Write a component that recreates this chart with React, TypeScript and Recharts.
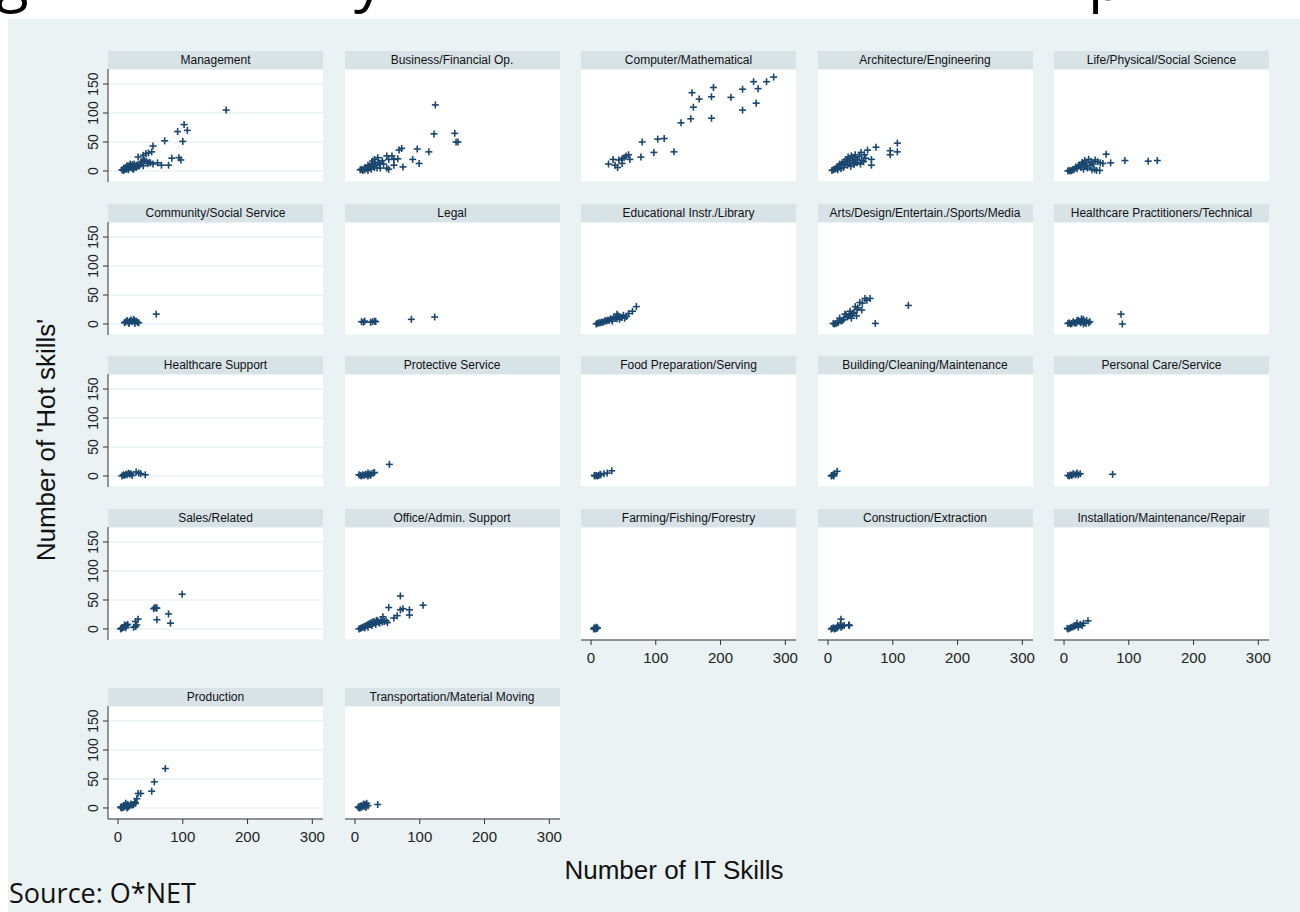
import { CartesianGrid, Scatter, ScatterChart, XAxis, YAxis } from "recharts";

type Pt = [number, number];

// [IT skills, hot skills] per occupation group
const MANAGEMENT: Pt[] = [
  [167, 105], [102, 80], [92, 68], [107, 70], [100, 51], [72, 52], [54, 43], [52, 33], [47, 31], [43, 30],
  [39, 27], [31, 24], [36, 16], [39, 19], [83, 22], [94, 23], [97, 19], [78, 10], [67, 10], [61, 14],
  [54, 12], [48, 15], [44, 17], [41, 18], [46, 13], [50, 14], [39, 9], [31, 8], [35, 12], [28, 10],
  [25, 12], [22, 11], [20, 8], [18, 6], [15, 5], [13, 3], [10, 2], [8, 1], [12, 6], [17, 9],
  [22, 4], [26, 7], [30, 10], [14, 9], [19, 12], [11, 4], [6, 2], [9, 5], [16, 2], [24, 3], [28, 6], [33, 9],
];
const BUSINESS: Pt[] = [
  [124, 114], [122, 64], [154, 65], [156, 50], [159, 50], [114, 33], [96, 38], [72, 39], [68, 36], [89, 20],
  [99, 13], [74, 7], [60, 20], [66, 21], [57, 26], [49, 26], [52, 20], [60, 10], [52, 3], [49, 5],
  [39, 5], [34, 5], [35, 23], [30, 20], [27, 17], [26, 13], [36, 15], [44, 12], [42, 18], [20, 10],
  [22, 6], [18, 4], [15, 2], [12, 1], [10, 3], [8, 2], [24, 8], [28, 9], [16, 6], [14, 4],
  [20, 1], [25, 3], [30, 6], [32, 10], [38, 12],
];
const COMPUTER: Pt[] = [
  [282, 162], [271, 154], [251, 154], [258, 142], [234, 141], [216, 127], [255, 117], [234, 105], [189, 144], [186, 128],
  [186, 91], [156, 135], [167, 124], [158, 110], [154, 90], [139, 83], [128, 33], [113, 56], [103, 55], [97, 32],
  [79, 50], [77, 24], [60, 20], [58, 28], [54, 26], [51, 23], [48, 21], [48, 13], [43, 19], [34, 20],
  [27, 12], [37, 10], [41, 6],
];
const ARCHITECTURE: Pt[] = [
  [107, 48], [107, 33], [96, 35], [96, 28], [74, 41], [67, 20], [67, 10], [61, 36], [51, 32], [56, 28],
  [58, 22], [52, 18], [48, 25], [45, 20], [42, 15], [40, 23], [38, 18], [35, 22], [33, 14], [30, 17],
  [28, 20], [26, 12], [25, 16], [22, 14], [20, 10], [18, 12], [16, 8], [14, 6], [12, 4], [10, 3],
  [8, 2], [6, 1], [30, 10], [35, 8], [40, 11], [45, 14], [50, 12], [55, 16], [24, 6], [20, 4],
  [15, 2], [36, 26], [42, 28], [31, 24],
];
const LIFE_SCIENCE: Pt[] = [
  [144, 18], [130, 17], [94, 18], [72, 14], [65, 29], [56, 14], [48, 19], [50, 1], [45, 12], [42, 16],
  [40, 10], [38, 20], [35, 14], [33, 8], [30, 12], [28, 15], [26, 6], [24, 10], [22, 9], [20, 4],
  [18, 7], [16, 3], [14, 2], [12, 1], [10, 0], [8, 1], [6, 0], [36, 5], [43, 2], [47, 3],
  [55, 1], [30, 3], [32, 18], [28, 11], [52, 16], [60, 13],
];
const COMMUNITY: Pt[] = [
  [59, 17], [30, 3], [28, 5], [25, 6], [22, 4], [20, 7], [18, 5], [16, 3], [14, 6], [12, 4],
  [10, 2], [26, 1], [32, 2], [24, 8], [17, 1],
];
const LEGAL: Pt[] = [[123, 12], [87, 8], [10, 4], [13, 3], [15, 5], [24, 3], [27, 4], [30, 5], [32, 4]];
const EDUCATION: Pt[] = [
  [70, 30], [64, 22], [58, 18], [55, 13], [50, 15], [48, 11], [45, 12], [42, 14], [40, 9], [38, 10],
  [35, 12], [32, 8], [30, 9], [28, 6], [26, 7], [24, 5], [22, 6], [20, 4], [18, 3], [16, 3],
  [14, 2], [12, 2], [10, 1], [8, 0], [33, 5], [40, 17], [44, 8], [52, 10],
];
const ARTS: Pt[] = [
  [124, 32], [73, 1], [65, 44], [57, 44], [49, 37], [42, 30], [34, 22], [26, 17], [18, 10], [60, 41],
  [53, 36], [46, 28], [45, 25], [40, 20], [38, 18], [35, 15], [32, 14], [30, 12], [28, 16], [24, 8],
  [22, 6], [20, 5], [16, 3], [14, 2], [12, 1], [10, 0], [8, 1], [36, 10], [44, 14], [52, 24],
];
const HEALTH_PRACT: Pt[] = [
  [88, 17], [90, 0], [40, 4], [38, 2], [35, 6], [32, 3], [30, 8], [28, 5], [26, 2], [24, 4],
  [22, 6], [20, 3], [18, 1], [16, 2], [14, 4], [12, 1], [10, 0], [8, 2], [6, 1], [30, 0],
  [34, 1], [27, 9], [20, 6],
];
const HEALTH_SUPPORT: Pt[] = [
  [42, 2], [35, 4], [32, 5], [28, 7], [20, 4], [18, 3], [16, 5], [14, 2], [12, 3], [10, 1],
  [8, 2], [6, 0], [22, 1],
];
const PROTECTIVE: Pt[] = [
  [53, 20], [30, 6], [28, 5], [25, 4], [22, 3], [20, 5], [18, 2], [16, 3], [14, 1], [12, 2],
  [10, 0], [8, 1], [6, 2], [24, 1], [20, 0],
];
const FOOD: Pt[] = [[32, 9], [25, 5], [20, 4], [15, 2], [12, 1], [10, 0], [8, 1], [6, 0], [5, 1], [14, 3]];
const BUILDING: Pt[] = [[14, 8], [10, 4], [8, 2], [6, 1], [5, 0], [9, 0]];
const PERSONAL: Pt[] = [
  [75, 3], [25, 4], [20, 5], [18, 2], [15, 3], [12, 1], [10, 2], [8, 0], [6, 1], [14, 4], [22, 2],
];
const SALES: Pt[] = [
  [99, 60], [78, 26], [81, 10], [60, 16], [57, 37], [59, 36], [55, 35], [60, 36], [31, 17], [27, 13],
  [27, 4], [29, 7], [24, 3], [15, 8], [13, 6], [11, 5], [9, 3], [7, 2], [5, 1], [4, 0], [12, 2], [10, 7],
];
const OFFICE: Pt[] = [
  [70, 57], [105, 41], [52, 37], [70, 33], [74, 35], [84, 33], [84, 24], [65, 23], [60, 19], [43, 21],
  [45, 13], [40, 15], [35, 14], [30, 12], [28, 10], [25, 11], [22, 9], [20, 8], [18, 6], [16, 5],
  [14, 4], [12, 3], [10, 2], [8, 1], [6, 0], [32, 8], [38, 10], [42, 12], [48, 14], [50, 11],
  [26, 6], [20, 3], [15, 2], [28, 13], [33, 15], [36, 12], [24, 8],
];
const FARMING: Pt[] = [[10, 2], [8, 3], [6, 1], [5, 2], [4, 0], [7, 0], [9, 1]];
const CONSTRUCTION: Pt[] = [
  [20, 17], [32, 7], [33, 6], [25, 6], [22, 5], [20, 3], [16, 4], [14, 2], [12, 1], [10, 0],
  [8, 2], [6, 1], [5, 0], [15, 6], [19, 8],
];
const INSTALLATION: Pt[] = [
  [37, 14], [30, 10], [25, 8], [20, 10], [18, 6], [16, 5], [14, 4], [12, 3], [10, 2], [8, 1],
  [6, 0], [5, 1], [22, 3], [28, 6],
];
const PRODUCTION: Pt[] = [
  [73, 68], [56, 45], [52, 29], [31, 25], [35, 25], [29, 16], [26, 10], [24, 6], [22, 5], [20, 7],
  [18, 4], [15, 6], [13, 3], [11, 5], [10, 2], [8, 1], [6, 0], [5, 2], [4, 1], [12, 8],
  [16, 2], [14, 0], [9, 4], [27, 8],
];
const TRANSPORT: Pt[] = [
  [35, 6], [20, 4], [18, 8], [16, 6], [15, 3], [14, 5], [12, 2], [10, 4], [9, 1], [8, 3],
  [7, 0], [6, 2], [5, 1], [17, 1], [13, 7],
];

const PANELS: { title: string; data: Pt[] }[] = [
  { title: "Management", data: MANAGEMENT },
  { title: "Business/Financial Op.", data: BUSINESS },
  { title: "Computer/Mathematical", data: COMPUTER },
  { title: "Architecture/Engineering", data: ARCHITECTURE },
  { title: "Life/Physical/Social Science", data: LIFE_SCIENCE },
  { title: "Community/Social Service", data: COMMUNITY },
  { title: "Legal", data: LEGAL },
  { title: "Educational Instr./Library", data: EDUCATION },
  { title: "Arts/Design/Entertain./Sports/Media", data: ARTS },
  { title: "Healthcare Practitioners/Technical", data: HEALTH_PRACT },
  { title: "Healthcare Support", data: HEALTH_SUPPORT },
  { title: "Protective Service", data: PROTECTIVE },
  { title: "Food Preparation/Serving", data: FOOD },
  { title: "Building/Cleaning/Maintenance", data: BUILDING },
  { title: "Personal Care/Service", data: PERSONAL },
  { title: "Sales/Related", data: SALES },
  { title: "Office/Admin. Support", data: OFFICE },
  { title: "Farming/Fishing/Forestry", data: FARMING },
  { title: "Construction/Extraction", data: CONSTRUCTION },
  { title: "Installation/Maintenance/Repair", data: INSTALLATION },
  { title: "Production", data: PRODUCTION },
  { title: "Transportation/Material Moving", data: TRANSPORT },
];

const X_TICKS = [0, 100, 200, 300];
const Y_TICKS = [0, 50, 100, 150];

const NAVY = "#1A476F";
const AXIS = "#333";
const FONT = "'Liberation Sans', Arial, sans-serif";

const PLOT_W = 215;
const PLOT_H = 113;
const GUT_L = 60;
const GUT_R = 16;
const GUT_B = 36;
const STRIP_H = 18;
const COL_X = [108, 344.5, 581, 817.5, 1054];
const ROW_Y = [69, 221.7, 374.3, 527, 706.3];

const Plus = (p: any) => {
  const { cx, cy } = p;
  if (cx == null || cy == null) return null;
  return (
    <g stroke={NAVY} strokeWidth={1.6}>
      <line x1={cx - 3.5} y1={cy} x2={cx + 3.5} y2={cy} />
      <line x1={cx} y1={cy - 3.5} x2={cx} y2={cy + 3.5} />
    </g>
  );
};

const YTick = (p: any) => {
  const { x, y, payload } = p;
  return (
    <text x={x} y={y} transform={`rotate(-90 ${x} ${y})`} textAnchor="middle" fontSize={14} fill="#222" fontFamily={FONT}>
      {payload.value}
    </text>
  );
};

function Panel({ i }: { i: number }) {
  const { title, data } = PANELS[i];
  const row = Math.floor(i / 5);
  const col = i % 5;
  const showY = col === 0;
  const showX = i >= 17;
  const pts = data.map(([x, y]) => ({ x, y }));
  return (
    <>
      <div
        style={{
          position: "absolute",
          left: COL_X[col],
          top: ROW_Y[row] - STRIP_H,
          width: PLOT_W,
          height: STRIP_H,
          background: "#D8E3E8",
          color: "#111",
          fontFamily: FONT,
          fontSize: 12,
          lineHeight: `${STRIP_H}px`,
          textAlign: "center",
          whiteSpace: "nowrap",
        }}
      >
        {title}
      </div>
      <div style={{ position: "absolute", left: COL_X[col] - GUT_L, top: ROW_Y[row] }}>
        <ScatterChart
          width={GUT_L + PLOT_W + GUT_R}
          height={PLOT_H + GUT_B}
          margin={{ top: 0, right: GUT_R, bottom: 0, left: 0 }}
        >
          <CartesianGrid vertical={false} fill="#fff" stroke="#EAF2F3" strokeWidth={1.6} />
          <XAxis
            type="number"
            dataKey="x"
            domain={[-15.5, 316.5]}
            ticks={X_TICKS}
            interval={0}
            allowDataOverflow
            height={GUT_B}
            axisLine={showX ? { stroke: AXIS } : false}
            tickLine={showX ? { stroke: AXIS } : false}
            tick={showX ? { fontSize: 15, fill: "#222", fontFamily: FONT } : false}
            tickSize={5}
            tickMargin={7}
          />
          <YAxis
            type="number"
            dataKey="y"
            domain={[-19, 175.9]}
            ticks={Y_TICKS}
            interval={0}
            allowDataOverflow
            width={GUT_L}
            axisLine={showY ? { stroke: AXIS } : false}
            tickLine={showY ? { stroke: AXIS } : false}
            tick={showY ? YTick : false}
            tickSize={5}
            tickMargin={5}
          />
          <Scatter data={pts} shape={Plus} isAnimationActive={false} />
        </ScatterChart>
      </div>
    </>
  );
}

export default function App() {
  return (
    <div style={{ position: "absolute", left: 0, top: 0, width: 1300, height: 912, background: "#fff", overflow: "hidden" }}>
      {/* bottom edge of the slide title, cut off above the figure */}
      <svg style={{ position: "absolute", left: 0, top: 0 }} width={1300} height={19}>
        <text y={0} fontSize={60} fontFamily="'Open Sans', sans-serif" fill="#000">
          <tspan x={-4}>g</tspan>
          <tspan x={354}>y</tspan>
          <tspan x={1088}>p</tspan>
        </text>
      </svg>
      <div style={{ position: "absolute", left: 8, top: 19, width: 1292, height: 893, background: "#EAF2F3" }} />
      {PANELS.map((_, i) => (
        <Panel key={i} i={i} />
      ))}
      <div
        style={{
          position: "absolute",
          left: 46,
          top: 440,
          transform: "translate(-50%, -50%) rotate(-90deg)",
          fontFamily: FONT,
          fontSize: 26,
          color: "#111",
          whiteSpace: "nowrap",
        }}
      >
        Number of 'Hot skills'
      </div>
      <div
        style={{
          position: "absolute",
          left: 674,
          top: 870,
          transform: "translate(-50%, -50%)",
          fontFamily: FONT,
          fontSize: 26,
          color: "#111",
          whiteSpace: "nowrap",
        }}
      >
        Number of IT Skills
      </div>
      <div
        style={{
          position: "absolute",
          left: 9,
          top: 876,
          fontFamily: "'Open Sans', sans-serif",
          fontSize: 27,
          color: "#111",
          whiteSpace: "nowrap",
          lineHeight: "34px",
        }}
      >
        Source: O*NET
      </div>
    </div>
  );
}
